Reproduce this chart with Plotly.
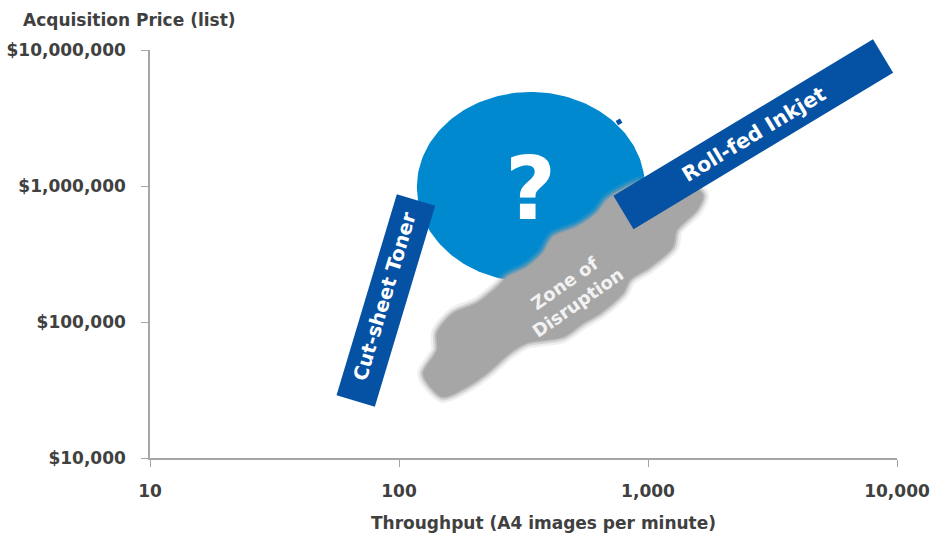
import numpy as np
import plotly.graph_objects as go

# ---------------- data ----------------
x_tickvals = [10, 100, 1000, 10000]
x_ticktext = ["10", "100", "1,000", "10,000"]
y_tickvals = [1e4, 1e5, 1e6, 1e7]
y_ticktext = ["$10,000", "$100,000", "$1,000,000", "$10,000,000"]

# Cut-sheet toner band: centre-line end points (throughput, price)
toner_throughput = [67, 117]
toner_price = [26200, 789000]
toner_label = (87.9, 153000)

# Roll-fed inkjet band: centre-line end points
inkjet_throughput = [797, 8790]
inkjet_price = [638000, 9040000]
inkjet_label = (2666, 2410000)

# "?" zone (ellipse extent)
question_throughput = [118, 972]
question_price = [197000, 4910000]
question_label = (336, 966000)
nub_point = (765, 2960000)

# Zone of disruption outline
zone_throughput = [1663, 1574, 1306, 1259, 1018, 847, 794, 642, 548, 456, 327, 279,
                   226, 187, 150, 130, 125, 142, 142, 165, 206, 248, 272, 327, 379,
                   415, 519, 624, 684, 751, 955, 1517]
zone_price = [859e3, 667e3, 474e3, 356e3, 253e3, 204e3, 163e3, 116e3, 98e3, 77.6e3,
              70.2e3, 59.2e3, 42.2e3, 33.3e3, 28.1e3, 35.6e3, 42.2e3, 62.2e3, 83e3,
              116e3, 138e3, 181e3, 214e3, 253e3, 322e3, 422e3, 500e3, 633e3, 789e3,
              889e3, 1.07e6, 984e3]
zone_label = (489, 163000)

# ---------------- geometry / style ----------------
W, H = 933, 538
ML, MR, MT, MB = 150, 36, 50, 80
PW, PH = W - ML - MR, H - MT - MB
XR, YR = [1, 4], [4, 7]
SX = PW / (XR[1] - XR[0])
SY = PH / (YR[1] - YR[0])

BAR = "#0551a3"
CIRCLE = "#0189cf"
GREY = "#a6a6a6"
TXT = "#404040"
AXIS = "#a6a6a6"
FONT = "DejaVu Sans"


def to_px(x, y):
    return (np.log10(x) - XR[0]) * SX, (np.log10(y) - YR[0]) * SY


def band_paper(xs, ys, width):
    """Rotated rectangle (constant pixel width) around a data centre-line,
    returned as a paper-referenced SVG path (so it is not clipped)."""
    p0 = np.array(to_px(xs[0], ys[0]))
    p1 = np.array(to_px(xs[1], ys[1]))
    d = p1 - p0
    d = d / np.hypot(*d)
    n = np.array([-d[1], d[0]]) * width / 2
    pts = [p0 + n, p1 + n, p1 - n, p0 - n]
    path = "M " + " L ".join(f"{p[0] / PW:.5f},{p[1] / PH:.5f}" for p in pts) + " Z"
    ang = -np.degrees(np.arctan2(p1[1] - p0[1], p1[0] - p0[0]))
    return path, ang


fig = go.Figure()

# ellipse
lx = np.log10(question_throughput)
ly = np.log10(question_price)
t = np.linspace(0, 2 * np.pi, 200)
ex = 10 ** ((lx[0] + lx[1]) / 2 + (lx[1] - lx[0]) / 2 * np.cos(t))
ey = 10 ** ((ly[0] + ly[1]) / 2 + (ly[1] - ly[0]) / 2 * np.sin(t))
fig.add_trace(go.Scatter(x=ex, y=ey, mode="lines", fill="toself", fillcolor=CIRCLE,
                         line=dict(width=0, color=CIRCLE), hoverinfo="skip"))
fig.add_trace(go.Scatter(x=[nub_point[0]], y=[nub_point[1]], mode="markers",
                         marker=dict(symbol="square", size=5, color=BAR, angle=-30),
                         hoverinfo="skip"))

# zone cloud (soft edge layers + fill)
zx = zone_throughput + zone_throughput[:1]
zy = zone_price + zone_price[:1]
for w, a in [(12, 0.18), (7, 0.35), (3, 0.6)]:
    fig.add_trace(go.Scatter(x=zx, y=zy, mode="lines",
                             line=dict(width=w, color=f"rgba(166,166,166,{a})",
                                       shape="spline", smoothing=0.8),
                             hoverinfo="skip"))
fig.add_trace(go.Scatter(x=zx, y=zy, mode="lines", fill="toself", fillcolor=GREY,
                         line=dict(width=0, color=GREY, shape="spline", smoothing=0.8),
                         hoverinfo="skip"))

# bars (paper-referenced shapes so the inkjet band can run past the plot top)
t_path, t_ang = band_paper(toner_throughput, toner_price, 40)
i_path, i_ang = band_paper(inkjet_throughput, inkjet_price, 39)
shapes = [dict(type="path", path=p, xref="paper", yref="paper", fillcolor=BAR,
               line=dict(width=0), layer="above") for p in (t_path, i_path)]

annotations = [
    dict(x=np.log10(toner_label[0]), y=np.log10(toner_label[1]), text="Cut-sheet Toner",
         textangle=t_ang, font=dict(family=FONT, size=19.5, color="white", weight="bold")),
    dict(x=np.log10(inkjet_label[0]), y=np.log10(inkjet_label[1]), text="Roll-fed Inkjet",
         textangle=i_ang, font=dict(family=FONT, size=20.5, color="white", weight="bold")),
    dict(x=np.log10(question_label[0]), y=np.log10(question_label[1]), text="?",
         font=dict(family=FONT, size=88, color="white", weight="bold")),
    dict(x=np.log10(zone_label[0]), y=np.log10(zone_label[1]), text="Zone of<br>Disruption",
         textangle=-35, font=dict(family=FONT, size=18, color="#f2f2f2", weight="bold")),
]
for a in annotations:
    a.update(xref="x", yref="y", showarrow=False, xanchor="center", yanchor="middle")

annotations += [
    dict(x=(543 - ML) / PW, y=(H - MB - 523) / PH, xref="paper", yref="paper",
         text="Throughput (A4 images per minute)", showarrow=False,
         font=dict(family=FONT, size=17, color=TXT, weight="bold"),
         xanchor="center", yanchor="middle"),
    dict(x=(129.5 - ML) / PW, y=(H - MB - 20) / PH, xref="paper", yref="paper",
         text="Acquisition Price (list)", showarrow=False,
         font=dict(family=FONT, size=17, color=TXT, weight="bold"),
         xanchor="center", yanchor="middle"),
]

tickfont = dict(family=FONT, size=17, color=TXT, weight="bold")
fig.update_layout(
    width=W, height=H, margin=dict(l=ML, r=MR, t=MT, b=MB, autoexpand=False),
    paper_bgcolor="white", plot_bgcolor="white", showlegend=False, hovermode=False,
    annotations=annotations, shapes=shapes,
    xaxis=dict(type="log", range=XR, tickvals=x_tickvals, ticktext=x_ticktext,
               showgrid=False, zeroline=False, showline=True, linecolor=AXIS, linewidth=1.5,
               ticks="outside", ticklen=7, tickcolor=AXIS, tickwidth=1, automargin=False,
               tickfont=tickfont, ticklabelstandoff=10, fixedrange=True),
    yaxis=dict(type="log", range=YR, tickvals=y_tickvals, ticktext=y_ticktext,
               showgrid=False, zeroline=False, showline=True, linecolor=AXIS, linewidth=1.5,
               ticks="outside", ticklen=7, tickcolor=AXIS, tickwidth=1, automargin=False,
               tickfont=tickfont, ticklabelstandoff=12, fixedrange=True),
)

fig.write_html("out.html", config={"displayModeBar": False})
